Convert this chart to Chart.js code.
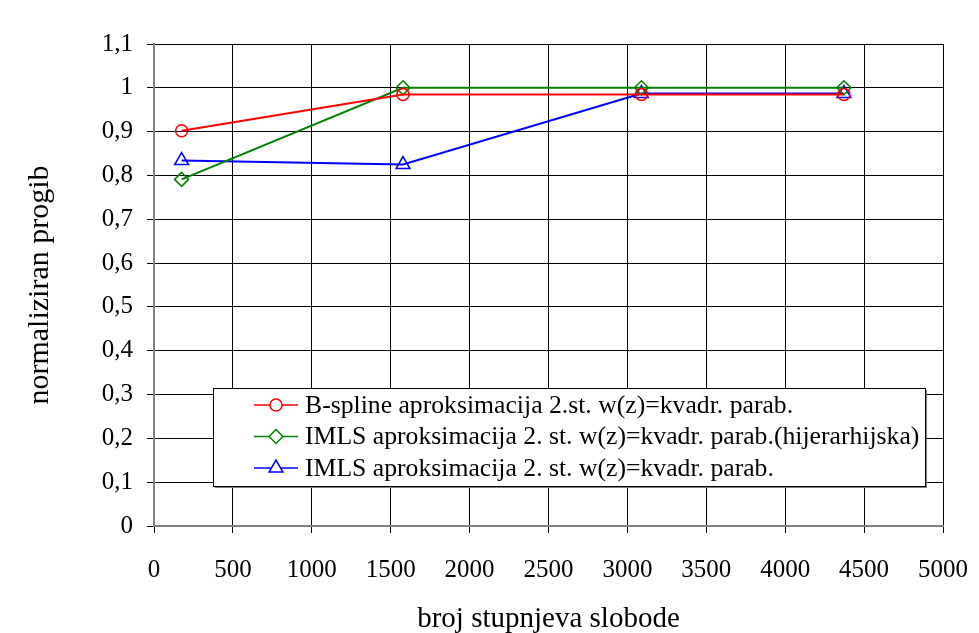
<!DOCTYPE html>
<html>
<head>
<meta charset="utf-8">
<script src="https://cdn.jsdelivr.net/npm/chart.js@4.4.0/dist/chart.umd.min.js"></script>
<style>
    html, body { margin: 0; padding: 0; background: #ffffff; }
    #wrap { width: 979px; height: 633px; }
</style>
</head>
<body>
<div id="wrap"><canvas id="progibChart" width="979" height="633"></canvas></div>
<script>
// values
const seriesLabels = [
    'B-spline aproksimacija 2.st. w(z)=kvadr. parab.',
    'IMLS aproksimacija 2. st. w(z)=kvadr. parab.(hijerarhijska)',
    'IMLS aproksimacija 2. st. w(z)=kvadr. parab.'
];
const dofValues = [175, 1578, 3089, 4372];
const bsplineValues = [0.902, 0.985, 0.985, 0.985];
const imlsHierValues = [0.791, 1.0, 1.0, 1.0];
const imlsValues = [0.834, 0.825, 0.987, 0.987];
const yTickLabels = ['0', '0,1', '0,2', '0,3', '0,4', '0,5', '0,6', '0,7', '0,8', '0,9', '1', '1,1'];

const serif = "'Liberation Serif', 'Times New Roman', serif";

function toPoints(xs, ys) {
    return xs.map((x, i) => ({ x: x, y: ys[i] }));
}

// legend box drawn inside the plot area like the original
const boxLegend = {
    id: 'boxLegend',
    afterDraw(chart) {
        const ctx = chart.ctx;
        const area = chart.chartArea;
        const x0 = area.left + 59, y0 = area.top + 344, w = 712, h = 98;
        ctx.save();
        ctx.fillStyle = '#808080';
        ctx.fillRect(x0 + 2, y0 + 2, w, h);
        ctx.fillStyle = '#ffffff';
        ctx.fillRect(x0, y0, w, h);
        ctx.strokeStyle = '#000000';
        ctx.lineWidth = 1;
        ctx.strokeRect(x0 + 0.5, y0 + 0.5, w, h);
        chart.data.datasets.forEach((ds, i) => {
            const rowY = y0 + 17 + i * 31.5;
            ctx.strokeStyle = ds.borderColor;
            ctx.lineWidth = 1.5;
            ctx.beginPath();
            ctx.moveTo(x0 + 41, rowY);
            ctx.lineTo(x0 + 85, rowY);
            ctx.stroke();
            ctx.fillStyle = '#ffffff';
            Chart.helpers.drawPoint(ctx, {
                pointStyle: ds.pointStyle,
                radius: ds.pointRadius,
                borderWidth: 1.5
            }, x0 + 63, rowY);
            ctx.fillStyle = '#000000';
            ctx.font = '25.7px ' + serif;
            ctx.textBaseline = 'middle';
            ctx.fillText(ds.label, x0 + 92, rowY + 1);
        });
        ctx.restore();
    }
};

const ctx = document.getElementById('progibChart').getContext('2d');

function makeSet(label, values, color, style, radius) {
    return {
        label: label,
        data: toPoints(dofValues, values),
        borderColor: color,
        backgroundColor: '#ffffff',
        borderWidth: 2,
        pointStyle: style,
        pointRadius: radius,
        pointBorderWidth: 1.5,
        pointBorderColor: color,
        pointBackgroundColor: 'rgba(255,255,255,0)',
        tension: 0
    };
}

new Chart(ctx, {
    type: 'line',
    data: {
        datasets: [
            makeSet(seriesLabels[0], bsplineValues, '#ff0000', 'circle', 6),
            makeSet(seriesLabels[1], imlsHierValues, '#008000', 'rectRot', 7),
            makeSet(seriesLabels[2], imlsValues, '#0000ff', 'triangle', 8)
        ]
    },
    options: {
        responsive: false,
        animation: false,
        layout: {
            padding: { left: 0, top: 44, right: 0, bottom: 0 }
        },
        plugins: {
            legend: { display: false },
            tooltip: { enabled: false }
        },
        scales: {
            x: {
                type: 'linear',
                min: 0,
                max: 5000,
                ticks: {
                    stepSize: 500,
                    color: '#000000',
                    padding: 22,
                    maxRotation: 0,
                    font: { family: serif, size: 25 },
                    callback: function(value) { return String(value); }
                },
                grid: {
                    color: '#000000',
                    lineWidth: 1,
                    tickLength: 7
                },
                border: { color: '#808080', width: 2 },
                title: {
                    display: true,
                    text: 'broj stupnjeva slobode',
                    color: '#000000',
                    font: { family: serif, size: 29 },
                    padding: { top: 0, bottom: -4 }
                },
                afterFit: function(scale) {
                    scale.height = 107;
                    scale.paddingRight = 36;
                }
            },
            y: {
                min: 0,
                max: 1.1,
                ticks: {
                    stepSize: 0.1,
                    color: '#000000',
                    padding: 14,
                    font: { family: serif, size: 25 },
                    callback: function(value) {
                        return yTickLabels[Math.round(value * 10)];
                    }
                },
                grid: {
                    color: '#000000',
                    lineWidth: 1,
                    tickLength: 7
                },
                border: { color: '#808080', width: 2 },
                title: {
                    display: true,
                    text: 'normaliziran progib',
                    color: '#000000',
                    font: { family: serif, size: 30 },
                    padding: { top: 22, bottom: 0 }
                },
                afterFit: function(scale) { scale.width = 154; }
            }
        }
    },
    plugins: [boxLegend]
});
</script>
</body>
</html>
